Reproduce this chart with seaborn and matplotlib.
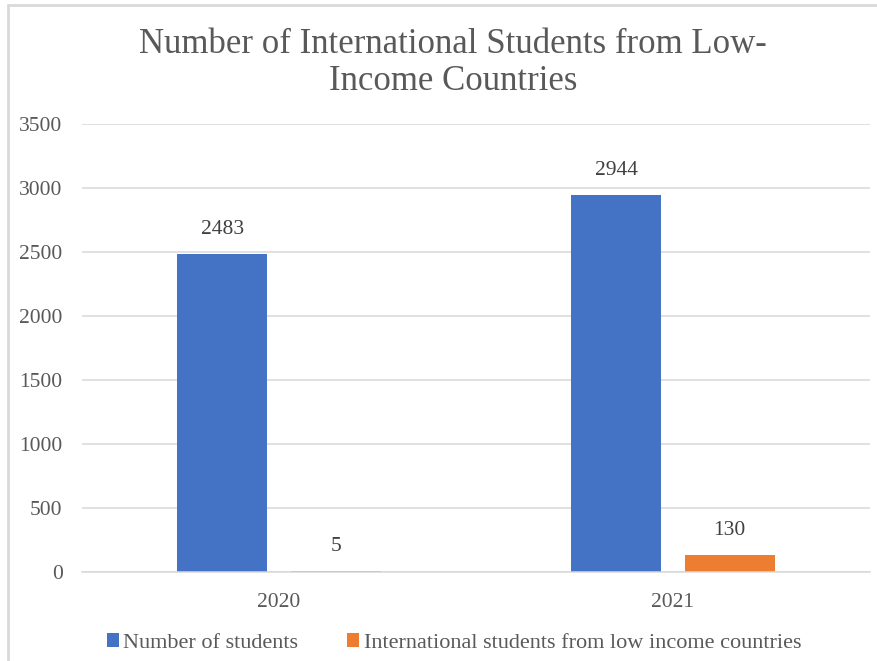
import pandas as pd
import matplotlib.pyplot as plt
from matplotlib.lines import Line2D
import seaborn as sns

# chart data
years = ["2020", "2021"]
total_students = [2483, 2944]
low_income_students = [5, 130]
series_names = ["Number of students", "International students from low income countries"]
y_ticks = [0, 500, 1000, 1500, 2000, 2500, 3000, 3500]

df = pd.DataFrame({
    "Year": years * 2,
    "Count": total_students + low_income_students,
    "Series": [series_names[0]] * len(years) + [series_names[1]] * len(years),
})

sns.set_style("white")
plt.rcParams['font.family'] = ['Liberation Serif', 'DejaVu Serif']

txt = "#595959"
grid_col = "#d9d9d9"
colors = {series_names[0]: "#4472C4", series_names[1]: "#ED7D31"}

fig = plt.figure(figsize=(8.77, 6.61), dpi=100)
ax = fig.add_axes([0.0935, 0.1346, 0.8985, 0.6778])

sns.barplot(data=df, x="Year", y="Count", hue="Series", hue_order=series_names,
            palette=colors, saturation=1, width=0.576, gap=0.21, linewidth=0, ax=ax)

handles, labels = ax.get_legend_handles_labels()
ax.get_legend().remove()

for c in ax.containers:
    ax.bar_label(c, fmt="%d", padding=11, fontsize=15.5, color="#404040")

ax.set_ylim(0, 3500)
ax.set_xlim(-0.5, 1.5)
ax.set_yticks(y_ticks)
ax.set_xlabel("")
ax.set_ylabel("")
ax.yaxis.grid(True, color=grid_col, linewidth=1.1)
ax.set_axisbelow(True)
for s in ["top", "right", "left"]:
    ax.spines[s].set_visible(False)
ax.spines["bottom"].set_color(grid_col)
ax.spines["bottom"].set_linewidth(1.1)
ax.tick_params(axis="y", length=0, pad=14, labelsize=15.5, labelcolor=txt)
ax.tick_params(axis="x", length=0, pad=15, labelsize=15.5, labelcolor=txt)

fig.text(453 / 877, 1 - 63 / 661, "Number of International Students from Low-\nIncome Countries",
         ha="center", va="center", fontsize=25, color=txt, linespacing=1.15)

fig.legend(handles, labels, loc="center", bbox_to_anchor=(454 / 877, 1 - 643 / 661),
           ncol=2, frameon=False, fontsize=16, handlelength=0.55, handleheight=0.6,
           handletextpad=0.2, columnspacing=2.2, labelcolor=txt)

# chart frame (top and left edges visible)
fig.add_artist(Line2D([8 / 877, 1], [1 - 5 / 661, 1 - 5 / 661], transform=fig.transFigure,
                      color=grid_col, linewidth=2))
fig.add_artist(Line2D([8 / 877, 8 / 877], [0, 1 - 5 / 661], transform=fig.transFigure,
                      color=grid_col, linewidth=2))

fig.savefig("out.png", dpi=100)
